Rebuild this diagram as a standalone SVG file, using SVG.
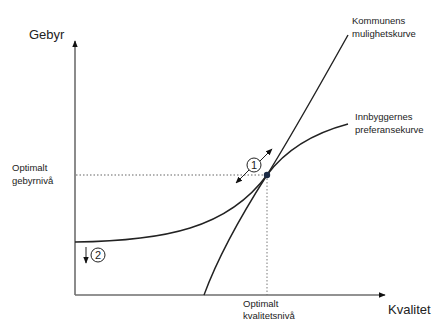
<svg xmlns="http://www.w3.org/2000/svg" width="436" height="320" viewBox="0 0 436 320">
<defs>
<marker id="ah" viewBox="0 0 10 10" refX="9" refY="5" markerWidth="7" markerHeight="7" orient="auto-start-reverse" markerUnits="userSpaceOnUse"><path d="M0,1 L10,5 L0,9 z" fill="#111"/></marker>
</defs>
<style>
.t{font-family:"Liberation Sans",Arial,sans-serif;fill:#222}
.s{font-size:9.5px}
.l{font-size:13px}
.ax{stroke:#6e6e6e;stroke-width:1.6;fill:none}
.cv{stroke:#222;stroke-width:1.4;fill:none}
.dot{stroke:#999;stroke-width:1.3;stroke-dasharray:1.5 2;fill:none}
.ar{stroke:#222;stroke-width:1;fill:none}
.c{fill:#fff;stroke:#222;stroke-width:1}
</style>
<g id="connectors">
<line class="dot" x1="76" y1="175" x2="267" y2="175"/>
<line class="dot" x1="267" y1="175" x2="267" y2="295"/>
<line class="ax" x1="75" y1="295" x2="75" y2="41" marker-end="url(#ah)"/>
<line class="ax" x1="75" y1="295" x2="385" y2="295" marker-end="url(#ah)"/>
</g>
<g id="kommunens-kurve">
<path class="cv" d="M204,295 C215,265 235,225 267,175 C290,138 320,85 348,35"/>
<text class="t s" x="352" y="24">Kommunens</text>
<text class="t s" x="352" y="37">mulighetskurve</text>
</g>
<g id="innbyggernes-kurve">
<path class="cv" d="M75,242 C165,241 228,228 267,175 C287,148 318,132 348,124"/>
<text class="t s" x="355" y="120">Innbyggernes</text>
<text class="t s" x="355" y="133">preferansekurve</text>
</g>
<g id="gebyr">
<text class="t l" x="29" y="39">Gebyr</text>
</g>
<g id="kvalitet">
<text class="t l" x="388" y="314">Kvalitet</text>
</g>
<g id="optimalt-gebyr">
<text class="t s" x="12" y="171">Optimalt</text>
<text class="t s" x="12" y="184">gebyrnivå</text>
</g>
<g id="optimalt-kvalitet">
<text class="t s" x="243" y="307">Optimalt</text>
<text class="t s" x="243" y="319">kvalitetsnivå</text>
</g>
<g id="punkt">
<circle cx="267" cy="175" r="3.2" fill="#1b2a44"/>
</g>
<g id="markor-1">
<line class="ar" x1="256" y1="165" x2="272" y2="149" marker-end="url(#ah)"/>
<line class="ar" x1="252" y1="167" x2="236" y2="183" marker-end="url(#ah)"/>
<circle class="c" cx="254" cy="165" r="7"/>
<text class="t" x="254" y="169" font-size="11" text-anchor="middle">1</text>
</g>
<g id="markor-2">
<line class="ar" x1="86" y1="247" x2="86" y2="263" marker-end="url(#ah)"/>
<circle class="c" cx="98" cy="255" r="7"/>
<text class="t" x="98" y="259" font-size="11" text-anchor="middle">2</text>
</g>
</svg>
